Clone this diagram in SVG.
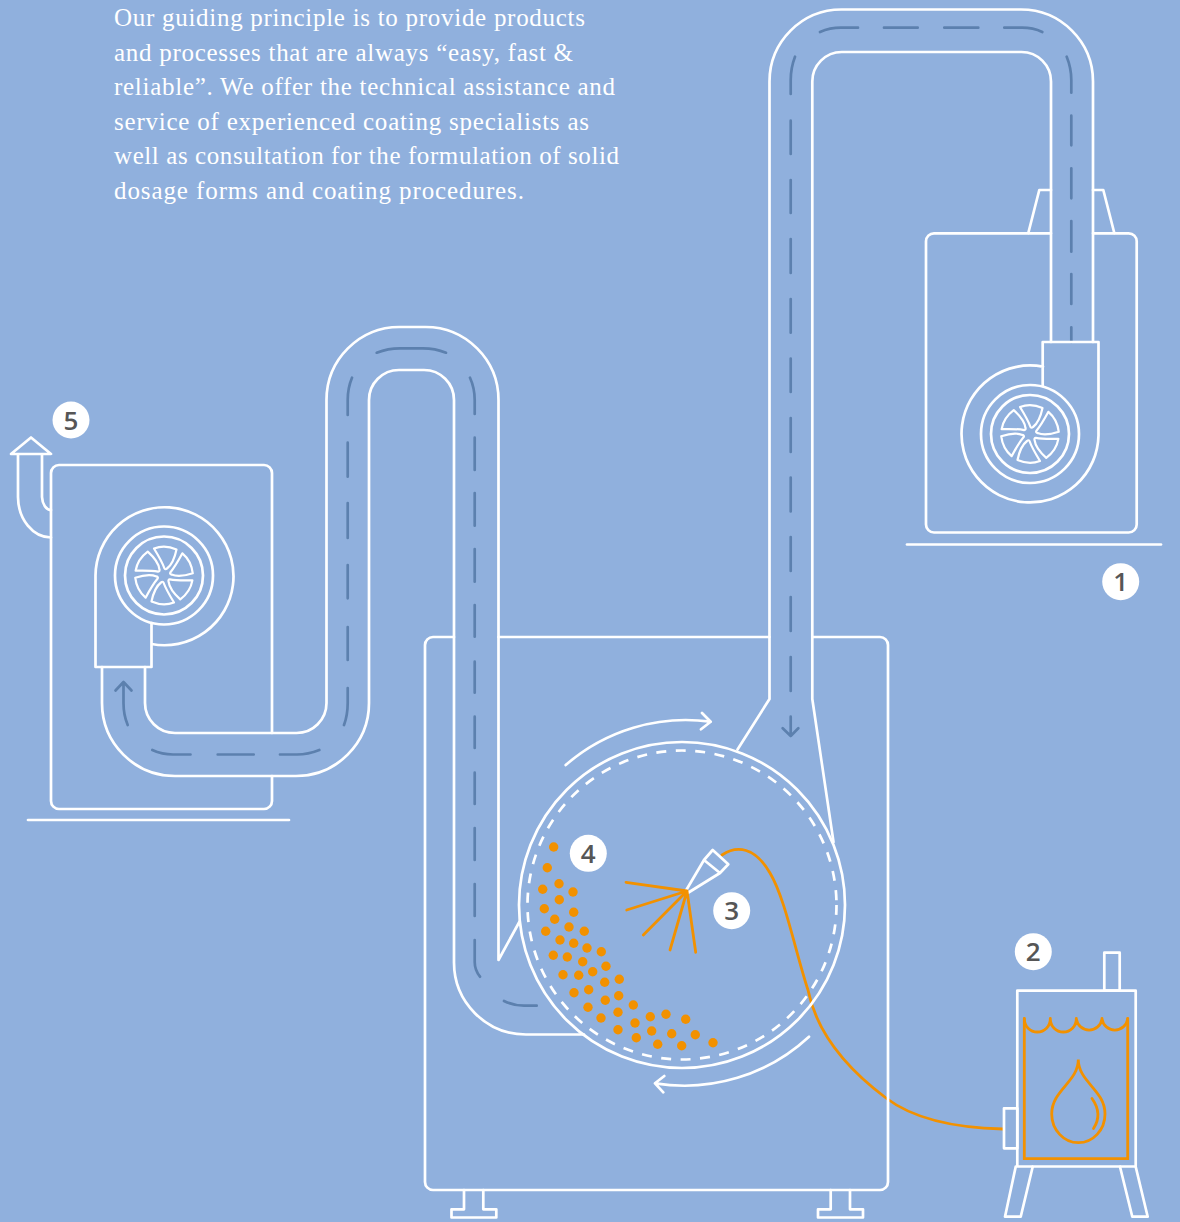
<svg xmlns="http://www.w3.org/2000/svg" width="1180" height="1222" viewBox="0 0 1180 1222">
<style>
.w{fill:none;stroke:#fff;stroke-width:2.7;stroke-linejoin:round;stroke-linecap:round}
.r{fill:none;stroke:#fff;stroke-width:2.2;stroke-linejoin:round}
.d{fill:none;stroke:#5c80ae;stroke-width:2.7;stroke-linecap:round;stroke-linejoin:round}
.o{fill:none;stroke:#f29100;stroke-width:2.8;stroke-linecap:round}
.p{fill:#f29100;stroke:none}
.b{fill:#fff}
.n{font-family:"Open Sans","Noto Sans",sans-serif;font-size:26px;font-weight:600;fill:#565656;text-anchor:middle}
.t{font-family:"Liberation Serif",serif;font-size:25px;fill:#fff}
</style>
<defs>
<g id="rotor">
<circle class="w" r="49"/><circle class="w" r="39"/>
<g id="blades">
<path id="bl" class="r" d="M-10 -27Q1 -31 12.500 -26Q9.600 -12 3 -7Q1.500 -5.500 .5 -7Q-2 -14 -10 -27Z"/>
<use href="#bl" transform="rotate(60)"/><use href="#bl" transform="rotate(120)"/><use href="#bl" transform="rotate(180)"/><use href="#bl" transform="rotate(240)"/><use href="#bl" transform="rotate(300)"/>
</g>
</g>
</defs>
<rect width="1180" height="1222" fill="#90b0dd"/>

<g id="intro-text">
<text class="t" x="114" y="26" textLength="471" lengthAdjust="spacing">Our guiding principle is to provide products</text>
<text class="t" x="114" y="60.500" textLength="459" lengthAdjust="spacing">and processes that are always “easy, fast &amp;</text>
<text class="t" x="114" y="95" textLength="501" lengthAdjust="spacing">reliable”. We offer the technical assistance and</text>
<text class="t" x="114" y="130" textLength="475" lengthAdjust="spacing">service of experienced coating specialists as</text>
<text class="t" x="114" y="164" textLength="505" lengthAdjust="spacing">well as consultation for the formulation of solid</text>
<text class="t" x="114" y="199" textLength="410" lengthAdjust="spacing">dosage forms and coating procedures.</text>
</g>

<g id="connectors">
<path class="w" d="M1093 342V81.500A72 72 0 0 0 1021 9.500H841.500A72 72 0 0 0 769.500 81.500V699L737.500 749.500"/>
<path class="w" d="M1051 342V81.500A29.500 29.500 0 0 0 1021.500 52H841.800A29.500 29.500 0 0 0 812.300 81.500V699L833.500 842"/>
<path class="w" d="M102 667V703A73 73 0 0 0 175 776H296A73 73 0 0 0 369 703V400A30 30 0 0 1 399 370H424A30 30 0 0 1 454 400V962A72 72 0 0 0 526 1034.500H584"/>
<path class="w" d="M145 667V703A30 30 0 0 0 175 733H296.500A30 30 0 0 0 326.500 703V400A73 73 0 0 1 399.500 327H425.500A73 73 0 0 1 498.500 400V960L519.300 922"/>
<path class="d" d="M1042.300 32Q1033 27.700 1022 27.700H1004.300M978.300 27.700H944.300M917.700 27.700H884M858 27.700H841Q830 27.700 820 32"/>
<path class="d" d="M795 56.700Q790.700 68 790.700 80V94M790.700 120.700V154M790.700 180V213M790.700 239V273M790.700 299V332.700M790.700 358.500V392M790.700 418V452M790.700 477.500V511.500M790.700 537V571M790.700 597V631M790.700 657V691M790.700 716.700V736M782.700 728.300L790.700 736L798.300 728.300"/>
<path class="d" d="M1066.700 56.700Q1071.300 68 1071.300 80V92.700M1071.300 115.700V145.300M1071.300 168.300V198.300M1071.300 221V251.700M1071.300 274V304M1071.300 327.300V342"/>
<path class="d" d="M115.500 690.500L123.500 682L131.500 690.500M123.500 682V703Q123.500 715 127.700 725"/>
<path class="d" d="M152.300 750Q162 754.500 173 754.500H190.500M217.700 754.500H253.700M280 754.500H297Q308 754.500 319.300 750"/>
<path class="d" d="M344 725Q347.700 715 347.700 703V688M347.700 660V627M347.700 598.300V565M347.700 538V503M347.700 476.700V442.700M347.700 415V400Q347.700 388 352 377.700"/>
<path class="d" d="M376.700 352.700Q388 348.300 400 348.300H423Q435 348.300 446 352.700"/>
<path class="d" d="M470 377.700Q474.700 388 474.700 400V414M474.700 437.700V470M474.700 493V525.700M474.700 549V581.700M474.700 605V636.700M474.700 661.700V692.700M474.700 716.700V748M474.700 772.700V804M474.700 828V860M474.700 884V916M474.700 940V962Q474.700 970 480 976.700"/>
<path class="d" d="M504 1001Q514 1005.700 524 1005.700H536.700"/>
<path class="o" d="M722 855C737 845 755 847 770 873C785 898 795 950 808 990C815 1025 838 1062 886 1098C915 1120 960 1128 1003 1129"/>
</g>

<g id="node-1">
<path class="w" d="M1051 233.300H934A8 8 0 0 0 926 241.300V524.500A8 8 0 0 0 934 532.500H1128.700A8 8 0 0 0 1136.700 524.500V241.300A8 8 0 0 0 1128.700 233.300H1093"/>
<path class="w" d="M1028.300 233L1039.300 190H1051M1093 190H1103.300L1114.300 233"/>
<path class="w" d="M907 544.500H1161"/>
<path class="w" d="M1043 366.700A68.500 68.500 0 1 0 1098.500 435.500V342H1042.700V386"/>
<use href="#rotor" x="1030" y="434"/>
<circle class="b" cx="1120.700" cy="581.700" r="18.500"/><text class="n" x="1120.700" y="591">1</text>
</g>

<g id="node-5">
<path class="w" d="M272 733V473A8 8 0 0 0 264 465H59A8 8 0 0 0 51 473V801A8 8 0 0 0 59 809H264A8 8 0 0 0 272 801V776"/>
<path class="w" d="M28 820H289"/>
<path class="w" d="M51 537.500A33 41 0 0 1 18 497V454M51 510A9 14 0 0 1 42 497V454M11 454L31 437.500L51 454Z"/>
<path class="w" d="M151.500 644A69 69 0 1 0 95.500 575.500V667H151.500V623"/>
<use href="#rotor" x="164" y="575.500"/>
<circle class="b" cx="71" cy="420" r="18.500"/><text class="n" x="71" y="429.500">5</text>
</g>

<g id="node-drum">
<path class="w" d="M454 637H433A8 8 0 0 0 425 645V1182A8 8 0 0 0 433 1190H880A8 8 0 0 0 888 1182V645A8 8 0 0 0 880 637H812.300M769.500 637H498.500"/>
<path class="w" d="M464 1190V1209.300H451.500V1217.500H496.300V1209.300H483.300V1190M830.700 1190V1209.300H818V1217.500H863V1209.300H850V1190"/>
<circle class="w" cx="682" cy="905" r="163"/>
<circle class="w" cx="682" cy="905" r="154.500" stroke-dasharray="10 9.500" style="stroke-linecap:butt"/>
<path class="w" d="M565.700 765A183 183 0 0 1 710.500 721.700M702 713L710.700 721.700L701 729.300"/>
<path class="w" d="M809 1036.700A183 183 0 0 1 655 1083.300M664.300 1076L655 1083.300L663.300 1092.300"/>
</g>

<g id="node-nozzle">
<path class="w" d="M686 890.500L704 860L712.700 850L728.300 864.300L720 873L688.500 892.500ZM704 860L720 873"/>
<path class="o" d="M687 891L626 882.300M687 891L626.700 910M687 891L643.300 935M687 891L670 950M687 891L695.700 952.300"/>
<circle class="b" cx="731.700" cy="910.700" r="18.500"/><text class="n" x="731.700" y="920">3</text>
</g>

<g id="node-particles">
<g class="p">
<circle cx="553.700" cy="847" r="4.700"/><circle cx="547.300" cy="867.700" r="4.700"/><circle cx="542.700" cy="889.300" r="4.700"/><circle cx="559" cy="883.700" r="4.700"/><circle cx="573" cy="892" r="4.700"/><circle cx="559.300" cy="899.700" r="4.700"/><circle cx="544.300" cy="908.700" r="4.700"/><circle cx="573.700" cy="912.300" r="4.700"/><circle cx="554.700" cy="919.300" r="4.700"/><circle cx="545.700" cy="931.300" r="4.700"/><circle cx="569" cy="927" r="4.700"/><circle cx="584.300" cy="931.300" r="4.700"/><circle cx="560" cy="940" r="4.700"/><circle cx="573.700" cy="943.300" r="4.700"/><circle cx="587" cy="948" r="4.700"/><circle cx="601.300" cy="951.700" r="4.700"/><circle cx="553.300" cy="955.300" r="4.700"/><circle cx="567.300" cy="957" r="4.700"/><circle cx="582.700" cy="961.700" r="4.700"/><circle cx="606" cy="966.300" r="4.700"/><circle cx="592.700" cy="971.700" r="4.700"/><circle cx="563" cy="974.700" r="4.700"/><circle cx="578.700" cy="975.300" r="4.700"/><circle cx="604.700" cy="982.300" r="4.700"/><circle cx="619.300" cy="979.300" r="4.700"/><circle cx="588.700" cy="989.700" r="4.700"/><circle cx="574" cy="992.700" r="4.700"/><circle cx="618.700" cy="995.700" r="4.700"/><circle cx="605.300" cy="1000.300" r="4.700"/><circle cx="633.300" cy="1005" r="4.700"/><circle cx="588" cy="1007.300" r="4.700"/><circle cx="618" cy="1012.300" r="4.700"/><circle cx="601" cy="1018" r="4.700"/><circle cx="650.300" cy="1016.700" r="4.700"/><circle cx="666" cy="1014.300" r="4.700"/><circle cx="685.700" cy="1019.300" r="4.700"/><circle cx="635" cy="1023" r="4.700"/><circle cx="618" cy="1029.700" r="4.700"/><circle cx="651.700" cy="1031" r="4.700"/><circle cx="671.700" cy="1033.700" r="4.700"/><circle cx="695.300" cy="1034.700" r="4.700"/><circle cx="636.300" cy="1037.700" r="4.700"/><circle cx="657.700" cy="1044.300" r="4.700"/><circle cx="681.700" cy="1045.700" r="4.700"/><circle cx="713" cy="1042.700" r="4.700"/>
</g>
<circle class="b" cx="588.300" cy="853.300" r="18.500"/><text class="n" x="588.300" y="862.700">4</text>
</g>

<g id="node-2">
<rect class="w" x="1017.300" y="990.700" width="118.400" height="175.800"/>
<rect class="w" x="1104.300" y="952.700" width="15.400" height="38"/>
<rect class="w" x="1004" y="1108.300" width="13.300" height="40"/>
<path class="w" d="M1015.700 1166.700L1005 1216.700H1020.700L1032.700 1166.700M1120 1166.700L1132.300 1216.700H1147.700L1135.700 1166.700"/>
<path class="o" d="M1024.300 1018.300V1158.700H1127.700V1018.300"/>
<path class="o" d="M1024.300 1019A13 13 0 0 0 1050.300 1019V1018.300M1050.300 1019A13 13 0 0 0 1076.300 1019V1018.300M1076.300 1019A13 13 0 0 0 1102 1019V1018.300M1102 1019A13 13 0 0 0 1127.700 1019"/>
<path class="o" d="M1078.300 1059.500C1078.300 1082 1051.700 1090 1051.700 1114C1051.700 1130 1064 1142.700 1078.300 1142.700C1093 1142.700 1105 1130 1105 1114C1105 1090 1078.300 1082 1078.300 1059.500Z"/>
<path class="o" d="M1092 1098.500Q1103 1114 1093.500 1128.500"/>
<circle class="b" cx="1033.300" cy="951.700" r="18.500"/><text class="n" x="1033.300" y="961">2</text>
</g>
</svg>
